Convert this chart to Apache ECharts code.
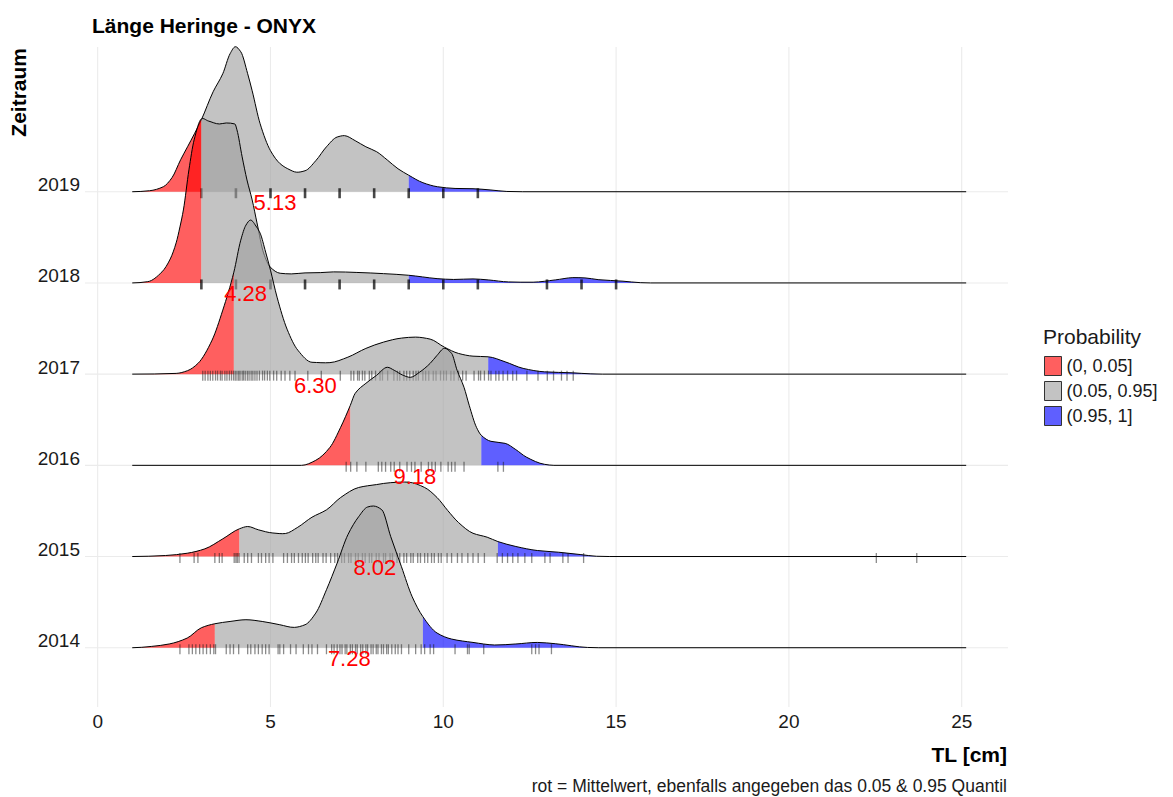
<!DOCTYPE html>
<html><head><meta charset="utf-8">
<script src="https://cdn.jsdelivr.net/npm/echarts@6/dist/echarts.min.js"></script>
<style>html,body{margin:0;padding:0;background:#fff}#c{width:1173px;height:797px}</style>
</head><body><div id="c"></div>
<script>
// ---------- data ----------
const years = ['2014', '2015', '2016', '2017', '2018', '2019'];
const xTicks = [0, 5, 10, 15, 20, 25];
const means = [7.28, 8.02, 9.18, 6.30, 4.28, 5.13];
const q05 = [3.39, 4.1, 7.31, 3.94, 3.0, 3.0];
const q95 = [9.41, 11.58, 11.1, 11.3, 9.0, 9.0];
const legendNames = ['(0, 0.05]', '(0.05, 0.95]', '(0.95, 1]'];

// density heights in units of ridge spacing
const x2014 = [1.0, 1.55, 2.07, 2.59, 3.0, 3.39, 3.83, 4.29, 4.76, 5.27, 5.69, 6.0, 6.31, 6.62, 6.93, 7.24, 7.55, 7.81, 7.98, 8.22, 8.48, 8.79, 9.1, 9.41, 9.82, 10.24, 10.86, 11.48, 12.1, 12.72, 13.24, 14.17, 14.5, 25.13];
const h2014 = [0, 0.014, 0.041, 0.106, 0.219, 0.263, 0.288, 0.307, 0.288, 0.252, 0.223, 0.252, 0.380, 0.636, 0.929, 1.239, 1.436, 1.543, 1.554, 1.513, 1.217, 0.888, 0.559, 0.340, 0.161, 0.095, 0.058, 0.030, 0.041, 0.058, 0.044, 0.003, 0, 0];
const x2015 = [1.0, 1.96, 2.59, 3.1, 3.62, 4.1, 4.34, 4.65, 5.07, 5.43, 5.79, 6.2, 6.62, 7.03, 7.55, 8.07, 8.48, 9.0, 9.46, 9.82, 10.13, 10.44, 10.86, 11.27, 11.58, 12.1, 12.72, 13.34, 13.96, 14.43, 14.8, 25.13];
const h2015 = [0, 0.011, 0.036, 0.084, 0.194, 0.304, 0.329, 0.293, 0.258, 0.252, 0.321, 0.431, 0.512, 0.647, 0.757, 0.789, 0.810, 0.815, 0.757, 0.647, 0.504, 0.373, 0.255, 0.212, 0.164, 0.110, 0.066, 0.047, 0.022, 0.003, 0, 0];
const x2016 = [1.0, 5.9, 6.31, 6.72, 7.03, 7.31, 7.45, 7.76, 8.07, 8.38, 8.58, 8.84, 9.05, 9.31, 9.62, 9.82, 10.03, 10.24, 10.4, 10.6, 10.75, 10.96, 11.1, 11.38, 11.79, 12.1, 12.4, 12.93, 13.2, 25.13];
const h2016 = [0, 0, 0.055, 0.197, 0.417, 0.658, 0.789, 0.899, 0.987, 1.075, 1.042, 0.987, 0.965, 1.020, 1.118, 1.206, 1.283, 1.228, 1.042, 0.855, 0.658, 0.417, 0.329, 0.263, 0.241, 0.172, 0.091, 0.011, 0, 0];
const x2017 = [1.0, 2.27, 2.6, 2.9, 3.31, 3.62, 3.94, 4.14, 4.29, 4.42, 4.6, 4.7, 4.86, 5.0, 5.19, 5.48, 5.79, 6.2, 6.72, 7.24, 7.76, 8.27, 8.79, 9.2, 9.62, 10.03, 10.44, 10.86, 11.3, 11.79, 12.31, 12.93, 13.75, 14.27, 14.6, 25.13];
const h2017 = [0, 0.008, 0.038, 0.117, 0.373, 0.702, 1.118, 1.469, 1.634, 1.689, 1.612, 1.546, 1.338, 1.140, 0.844, 0.493, 0.263, 0.130, 0.126, 0.186, 0.282, 0.351, 0.395, 0.406, 0.384, 0.296, 0.227, 0.197, 0.190, 0.135, 0.063, 0.025, 0.014, 0.003, 0, 0];
const x2018 = [1.0, 1.45, 1.86, 2.1, 2.27, 2.38, 2.48, 2.64, 2.79, 3.0, 3.2, 3.52, 3.72, 3.97, 4.03, 4.18, 4.32, 4.47, 4.61, 4.8, 4.99, 5.28, 5.6, 6.0, 6.44, 6.83, 7.5, 8.27, 9.0, 9.4, 9.82, 10.3, 10.86, 11.3, 11.89, 12.6, 13.24, 13.75, 14.1, 14.48, 15.2, 15.7, 16.0, 25.13];
const h2018 = [0, 0.014, 0.121, 0.263, 0.439, 0.614, 0.800, 1.239, 1.568, 1.798, 1.776, 1.743, 1.754, 1.743, 1.678, 1.382, 1.129, 0.910, 0.658, 0.329, 0.175, 0.106, 0.099, 0.110, 0.113, 0.121, 0.115, 0.102, 0.084, 0.066, 0.047, 0.038, 0.044, 0.033, 0.011, 0.008, 0.033, 0.058, 0.055, 0.036, 0.019, 0.003, 0, 0];
const x2019 = [1.0, 1.5, 1.9, 2.15, 2.4, 2.6, 2.8, 3.0, 3.34, 3.62, 3.83, 3.98, 4.14, 4.34, 4.47, 4.7, 5.0, 5.28, 5.5, 5.76, 6.0, 6.31, 6.62, 6.93, 7.14, 7.45, 7.76, 8.07, 8.38, 8.69, 9.0, 9.41, 9.83, 10.34, 10.86, 11.38, 11.84, 12.3, 25.13];
const h2019 = [0, 0.011, 0.055, 0.154, 0.351, 0.493, 0.636, 0.789, 1.096, 1.294, 1.513, 1.590, 1.535, 1.294, 1.107, 0.746, 0.450, 0.307, 0.252, 0.214, 0.230, 0.340, 0.493, 0.600, 0.615, 0.560, 0.493, 0.439, 0.348, 0.252, 0.181, 0.099, 0.055, 0.036, 0.033, 0.019, 0.003, 0, 0];

// observed lengths (rug ticks)
const rug2014 = [2.38, 2.64, 2.74, 2.84, 2.95, 3.05, 3.15, 3.26, 3.36, 3.41, 3.72, 3.83, 3.93, 4.08, 4.34, 4.43, 4.55, 4.65, 4.76, 4.86, 4.96, 5.22, 5.27, 5.38, 5.58, 5.74, 5.95, 6.1, 6.2, 6.36, 6.62, 6.77, 6.84, 6.93, 7.01, 7.07, 7.16, 7.21, 7.31, 7.37, 7.46, 7.51, 7.61, 7.67, 7.76, 7.81, 7.91, 7.97, 8.06, 8.11, 8.21, 8.27, 8.36, 8.41, 8.51, 8.61, 8.69, 8.79, 9.0, 9.2, 9.36, 9.46, 9.62, 9.72, 10.34, 10.7, 10.75, 11.17, 12.56, 12.67, 12.77, 13.13];
const rug2015 = [2.38, 2.79, 2.9, 3.39, 3.52, 3.6, 3.95, 4.0, 4.04, 4.09, 4.24, 4.34, 4.45, 4.65, 4.74, 4.86, 4.96, 5.07, 5.38, 5.49, 5.61, 5.69, 5.81, 5.92, 6.01, 6.09, 6.22, 6.31, 6.38, 6.52, 6.61, 6.74, 6.86, 6.94, 7.06, 7.14, 7.26, 7.33, 7.46, 7.54, 7.66, 7.74, 7.86, 7.93, 8.06, 8.14, 8.27, 8.33, 8.46, 8.53, 8.66, 8.74, 8.86, 8.94, 9.06, 9.13, 9.26, 9.34, 9.46, 9.55, 9.66, 9.74, 9.86, 9.94, 10.11, 10.24, 10.41, 10.54, 10.71, 10.86, 11.01, 11.19, 11.56, 11.71, 11.86, 12.01, 12.16, 12.36, 12.56, 12.94, 13.09, 13.46, 13.61, 14.06, 22.53, 23.7];
const rug2016 = [7.19, 7.32, 7.5, 7.76, 8.12, 8.22, 8.33, 8.48, 8.58, 8.74, 8.95, 9.08, 9.18, 9.36, 9.57, 9.67, 9.77, 9.93, 10.14, 10.24, 10.34, 10.6, 11.58, 11.74];
const rug2017 = [3.04, 3.11, 3.19, 3.26, 3.33, 3.41, 3.47, 3.55, 3.6, 3.68, 3.74, 3.81, 3.87, 3.93, 3.98, 4.03, 4.08, 4.12, 4.18, 4.22, 4.27, 4.33, 4.38, 4.44, 4.49, 4.55, 4.61, 4.68, 4.77, 4.83, 4.91, 4.98, 5.09, 5.18, 5.31, 5.42, 5.56, 5.71, 6.08, 6.47, 7.02, 7.33, 7.41, 7.52, 7.57, 7.66, 7.73, 7.86, 7.93, 8.04, 8.17, 8.24, 8.39, 8.57, 8.67, 8.74, 8.86, 8.94, 9.03, 9.13, 9.21, 9.28, 9.41, 9.49, 9.58, 9.71, 9.79, 9.92, 10.01, 10.09, 10.22, 10.31, 10.44, 10.56, 10.66, 10.89, 11.02, 11.08, 11.19, 11.31, 11.38, 11.52, 11.61, 11.73, 11.86, 12.01, 12.12, 12.42, 12.74, 13.01, 13.19, 13.42, 13.58, 13.76];
const rug2018 = [3, 4, 5, 6, 7, 8, 9, 10, 11, 13, 14, 15];
const rug2019 = [3, 4, 5, 6, 7, 8, 9, 10, 11];

const ridgeX = [x2014, x2015, x2016, x2017, x2018, x2019];
const ridgeH = [h2014, h2015, h2016, h2017, h2018, h2019];
const rugs = [rug2014, rug2015, rug2016, rug2017, rug2018, rug2019];

// ---------- layout / style ----------
const FONT = '"Liberation Sans", Arial, Helvetica, sans-serif';
const X_MIN = -0.367, X_MAX = 26.34, Y_MIN = -0.65, Y_MAX = 6.587;
const FILL = ['rgba(255,0,0,0.627)', 'rgba(160,160,160,0.627)', 'rgba(0,0,255,0.627)'];
const GRID_COLOR = '#EBEBEB';

// tangent estimate for a smooth curve through the read points (rendering only)
function slopes(xs, ys) {
  const n = xs.length, m = new Array(n).fill(0);
  for (let i = 1; i < n - 1; i++) {
    if (ys[i] === 0) continue;
    const h0 = xs[i] - xs[i - 1], h1 = xs[i + 1] - xs[i];
    const d0 = (ys[i] - ys[i - 1]) / h0, d1 = (ys[i + 1] - ys[i]) / h1;
    if (d0 * d1 > 0) {
      const w1 = 2 * h1 + h0, w2 = h1 + 2 * h0;
      m[i] = (w1 + w2) / (w1 / d0 + w2 / d1);
    } else {
      m[i] = 0.5 * (d0 * h1 + d1 * h0) / (h0 + h1);
    }
  }
  return m;
}
function pt(p) { return p[0].toFixed(2) + ' ' + p[1].toFixed(2); }
function knot(xs, v) {
  let best = 0;
  for (let i = 0; i < xs.length; i++) if (Math.abs(xs[i] - v) < Math.abs(xs[best] - v)) best = i;
  return best;
}

function ridgeRender(k) {
  const xs = ridgeX[k], ys = ridgeH[k], m = slopes(xs, ys), n = xs.length;
  const iA = knot(xs, q05[k]), iB = knot(xs, q95[k]);
  return function (params, api) {
    const P = (x, y) => api.coord([x, k + Math.max(0, y)]);
    const curve = (i0, i1) => {
      let d = '';
      for (let i = i0; i < i1; i++) {
        const dx = xs[i + 1] - xs[i];
        d += ' C' + pt(P(xs[i] + dx / 3, ys[i] + m[i] * dx / 3)) + ' ' +
          pt(P(xs[i + 1] - dx / 3, ys[i + 1] - m[i + 1] * dx / 3)) + ' ' +
          pt(P(xs[i + 1], ys[i + 1]));
      }
      return d;
    };
    const fill = (i0, i1, color) => ({
      type: 'path',
      shape: { pathData: 'M' + pt(P(xs[i0], 0)) + ' L' + pt(P(xs[i0], ys[i0])) + curve(i0, i1) + ' L' + pt(P(xs[i1], 0)) + ' Z' },
      style: { fill: color, stroke: 'none' }
    });
    return {
      type: 'group',
      children: [
        fill(0, iA, FILL[0]), fill(iA, iB, FILL[1]), fill(iB, n - 1, FILL[2]),
        { type: 'path', shape: { pathData: 'M' + pt(P(xs[0], ys[0])) + curve(0, n - 1) },
          style: { fill: 'none', stroke: '#000', lineWidth: 1 } }
      ]
    };
  };
}

const series = [];
// vertical grid lines
series.push({
  type: 'custom', silent: true, clip: false, z: 1,
  data: xTicks.map(v => [v, 0]), encode: { x: 0, y: 1 },
  renderItem: (p, api) => {
    const a = api.coord([api.value(0), Y_MAX]), b = api.coord([api.value(0), Y_MIN]);
    return { type: 'line', shape: { x1: a[0], y1: a[1], x2: b[0], y2: b[1] }, style: { stroke: GRID_COLOR, lineWidth: 1.1 } };
  }
});
// horizontal grid lines + year labels
series.push({
  type: 'custom', silent: true, clip: false, z: 1,
  data: years.map((y, k) => [X_MIN, k]), encode: { x: 0, y: 1 },
  renderItem: (p, api) => {
    const k = api.value(1);
    const a = api.coord([X_MIN, k]), b = api.coord([X_MAX, k]);
    return { type: 'group', children: [
      { type: 'line', shape: { x1: a[0], y1: a[1], x2: b[0], y2: b[1] }, style: { stroke: GRID_COLOR, lineWidth: 1.1 } },
      { type: 'text', x: a[0] - 5, y: a[1] - 7, style: { text: years[k], fill: '#1a1a1a', fontSize: 19, fontFamily: FONT, align: 'right', verticalAlign: 'middle' } }
    ]};
  }
});
// ridges, top (2019) drawn first, lower ones on top
for (let k = years.length - 1; k >= 0; k--) {
  series.push({
    type: 'custom', silent: true, clip: false, z: 10 + (5 - k) * 2,
    data: [[means[k], k]], encode: { x: 0, y: 1 },
    renderItem: ridgeRender(k)
  });
  const integerData = k >= 4;
  series.push({
    type: 'scatter', silent: true, z: 11 + (5 - k) * 2,
    symbol: 'rect', symbolSize: integerData ? [2.6, 10] : [1.3, 10], symbolOffset: [0, 1.5],
    itemStyle: { color: integerData ? 'rgba(0,0,0,0.9)' : 'rgba(20,20,20,0.62)' },
    data: rugs[k].map(v => [v, k])
  });
}
// mean labels
series.push({
  type: 'custom', silent: true, clip: false, z: 40,
  data: means.map((v, k) => [v, k]), encode: { x: 0, y: 1 },
  renderItem: (p, api) => {
    const c = api.coord([api.value(0), api.value(1)]);
    return { type: 'text', x: c[0], y: c[1] + 11, style: { text: api.value(0).toFixed(2), fill: '#FF0000', fontSize: 22, fontFamily: FONT, align: 'center', verticalAlign: 'middle' } };
  }
});
// legend entries
legendNames.forEach((name, i) => series.push({ type: 'bar', name: name, data: [], itemStyle: { color: FILL[i] } }));

const chart = echarts.init(document.getElementById('c'), null, { renderer: 'svg' });
chart.setOption({
  animation: false,
  backgroundColor: '#fff',
  textStyle: { fontFamily: FONT },
  title: { text: 'Länge Heringe - ONYX', left: 92, top: 15, padding: 0,
    textStyle: { fontSize: 21, fontWeight: 'bold', color: '#000', fontFamily: FONT } },
  grid: { left: 85, right: 165, top: 47, bottom: 90 },
  xAxis: {
    type: 'value', min: X_MIN, max: X_MAX,
    axisLine: { show: false }, axisTick: { show: false }, splitLine: { show: false },
    axisLabel: { customValues: xTicks, margin: 5, fontSize: 19, color: '#1a1a1a', fontFamily: FONT }
  },
  yAxis: { type: 'value', min: Y_MIN, max: Y_MAX, show: false, splitLine: { show: false } },
  legend: {
    orient: 'vertical', left: 1044, top: 356, padding: 0,
    itemWidth: 17, itemHeight: 19, itemGap: 5, icon: 'rect', selectedMode: false,
    itemStyle: { borderColor: '#333', borderWidth: 1 },
    textStyle: { fontSize: 18, color: '#1a1a1a', fontFamily: FONT },
    data: legendNames
  },
  graphic: [
    { type: 'text', x: 1043, y: 336, style: { text: 'Probability', fontSize: 21, fill: '#1a1a1a', fontFamily: FONT, align: 'left', verticalAlign: 'middle' } },
    { type: 'text', x: 18, y: 48, rotation: Math.PI / 2, style: { text: 'Zeitraum', fontSize: 21, fontWeight: 'bold', fill: '#000', fontFamily: FONT, align: 'right', verticalAlign: 'middle' } },
    { type: 'text', x: 1007, y: 754, style: { text: 'TL [cm]', fontSize: 21, fontWeight: 'bold', fill: '#000', fontFamily: FONT, align: 'right', verticalAlign: 'middle' } },
    { type: 'text', x: 1007, y: 786, style: { text: 'rot = Mittelwert, ebenfalls angegeben das 0.05 & 0.95 Quantil', fontSize: 17.5, fill: '#1a1a1a', fontFamily: FONT, align: 'right', verticalAlign: 'middle' } }
  ],
  series: series
});
</script>
</body></html>
